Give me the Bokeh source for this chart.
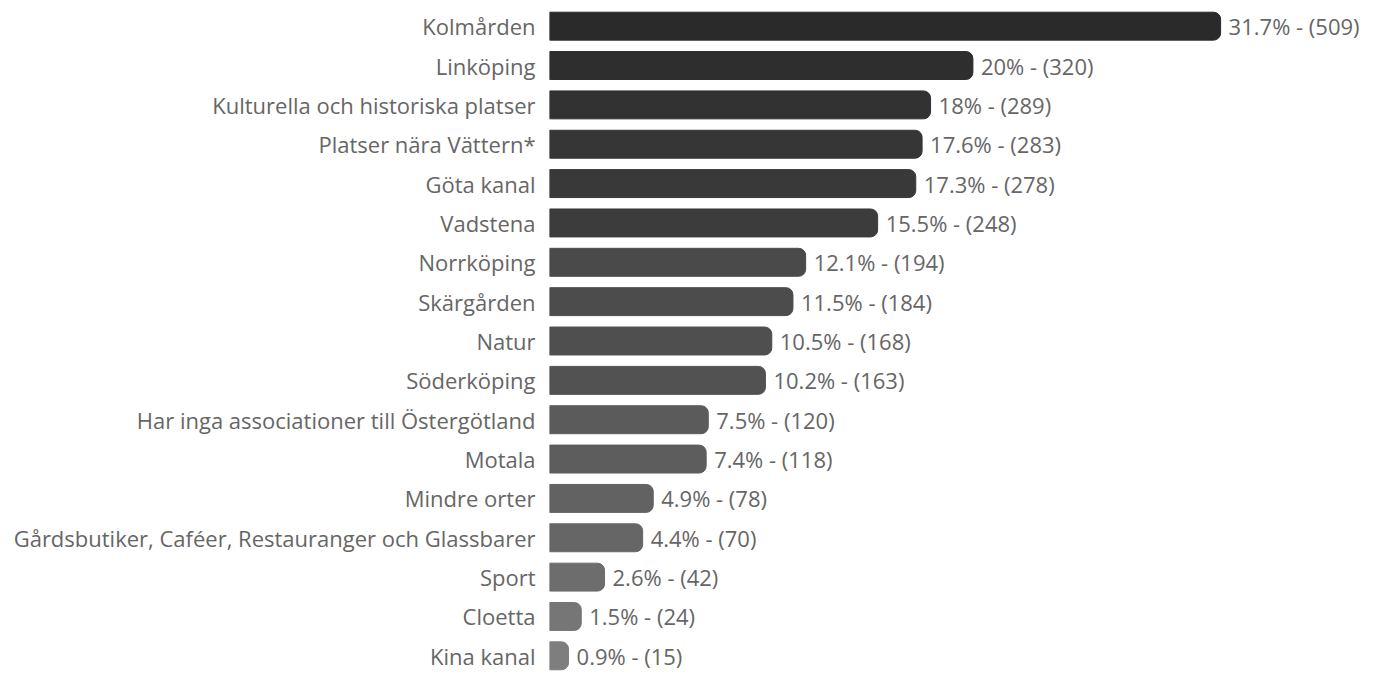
from bokeh.plotting import figure
from bokeh.models import ColumnDataSource, Range1d, FactorRange
from bokeh.core.properties import value
from bokeh.embed import file_html
from bokeh.resources import INLINE

categories = [
    "Kolmården", "Linköping", "Kulturella och historiska platser",
    "Platser nära Vättern*", "Göta kanal", "Vadstena", "Norrköping",
    "Skärgården", "Natur", "Söderköping",
    "Har inga associationer till Östergötland", "Motala", "Mindre orter",
    "Gårdsbutiker, Caféer, Restauranger och Glassbarer", "Sport",
    "Cloetta", "Kina kanal",
]
percent = [31.7, 20, 18, 17.6, 17.3, 15.5, 12.1, 11.5, 10.5, 10.2,
           7.5, 7.4, 4.9, 4.4, 2.6, 1.5, 0.9]
counts = [509, 320, 289, 283, 278, 248, 194, 184, 168, 163,
          120, 118, 78, 70, 42, 24, 15]
colors = ["#2a2a2a", "#2e2e2e", "#323232", "#363636", "#393939", "#3c3c3c",
          "#4a4a4a", "#4c4c4c", "#4f4f4f", "#525252", "#5b5b5b", "#5d5d5d",
          "#626262", "#666666", "#6d6d6d", "#767676", "#7e7e7e"]

labels = ["%s%% - (%d)" % ("%g" % p, c) for p, c in zip(percent, counts)]

src = ColumnDataSource(dict(cat=categories, pct=percent, col=colors, lab=labels))

FONT = "Open Sans"
TXT = "#666666"
SIZE = "22px"

p = figure(width=1370, height=675, output_backend="svg", toolbar_location=None,
           y_range=FactorRange(factors=list(reversed(categories)), range_padding=0),
           x_range=Range1d(0, 38.78),
           min_border_left=549, min_border_right=0, min_border_top=6, min_border_bottom=0)

p.hbar(y="cat", right="pct", left=0, height=0.71, color="col", source=src,
       border_radius=(0, 7, 7, 0))
p.text(x="pct", y="cat", text="lab", source=src, x_offset=8,
       text_baseline="middle", text_align="left", text_color=TXT,
       text_font=value(FONT), text_font_size=SIZE)

p.xaxis.visible = False
p.xgrid.visible = False
p.ygrid.visible = False
p.outline_line_color = None
yax = p.yaxis[0]
yax.axis_line_color = None
yax.major_tick_line_color = None
yax.minor_tick_line_color = None
yax.major_tick_out = 0
yax.major_tick_in = 0
yax.major_label_standoff = 14
yax.major_label_text_font = FONT
yax.major_label_text_font_size = SIZE
yax.major_label_text_color = TXT

open("out.html", "w").write(file_html(p, INLINE))
